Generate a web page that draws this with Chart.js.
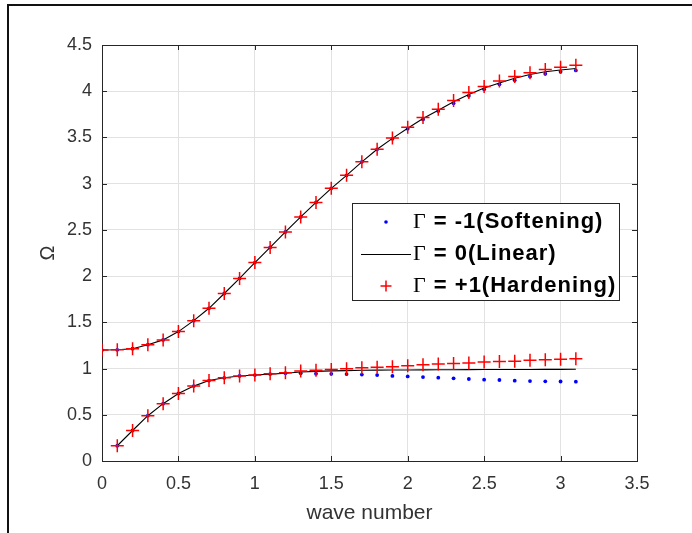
<!DOCTYPE html>
<html>
<head>
<meta charset="utf-8">
<script src="https://cdn.jsdelivr.net/npm/chart.js@4/dist/chart.umd.min.js"></script>
<style>
  html, body { margin: 0; padding: 0; background: #fff; }
  #wrap { width: 692px; height: 533px; }
</style>
</head>
<body>
<div id="wrap"><canvas id="grafico" width="692" height="533"></canvas></div>
<script>
// wave numbers
const kUpper = [0, 0.1, 0.2, 0.3, 0.4, 0.5, 0.6, 0.7, 0.8, 0.9, 1.0, 1.1, 1.2, 1.3, 1.4, 1.5,
  1.6, 1.7, 1.8, 1.9, 2.0, 2.1, 2.2, 2.3, 2.4, 2.5, 2.6, 2.7, 2.8, 2.9, 3.0, 3.1];
const kLower = kUpper.slice(1);

// upper (optical) branch
const linearUpper = [1.200, 1.203, 1.215, 1.258, 1.310, 1.400, 1.518, 1.652, 1.812, 1.975, 2.146,
  2.310, 2.478, 2.640, 2.797, 2.950, 3.090, 3.236, 3.372, 3.490, 3.600, 3.705, 3.795, 3.885,
  3.965, 4.035, 4.090, 4.140, 4.180, 4.210, 4.230, 4.245];
const softUpper = [1.200, 1.203, 1.215, 1.258, 1.310, 1.400, 1.518, 1.652, 1.812, 1.975, 2.146,
  2.310, 2.478, 2.640, 2.797, 2.950, 3.090, 3.236, 3.372, 3.485, 3.595, 3.695, 3.785, 3.870,
  3.950, 4.020, 4.075, 4.120, 4.160, 4.190, 4.210, 4.225];
const hardUpper = [1.200, 1.203, 1.215, 1.258, 1.310, 1.400, 1.518, 1.652, 1.812, 1.975, 2.146,
  2.310, 2.478, 2.640, 2.797, 2.950, 3.090, 3.236, 3.372, 3.495, 3.610, 3.715, 3.805, 3.900,
  3.985, 4.050, 4.110, 4.160, 4.200, 4.235, 4.260, 4.280];

// lower (acoustic) branch
const linearLower = [0.165, 0.330, 0.490, 0.620, 0.730, 0.810, 0.870, 0.900, 0.920, 0.930, 0.940,
  0.950, 0.963, 0.970, 0.975, 0.978, 0.981, 0.983, 0.984, 0.985, 0.986, 0.987, 0.987, 0.988,
  0.989, 0.989, 0.990, 0.990, 0.991, 0.991, 0.992];
const softLower = [0.165, 0.330, 0.490, 0.620, 0.730, 0.810, 0.870, 0.900, 0.920, 0.930, 0.940,
  0.950, 0.948, 0.945, 0.943, 0.940, 0.935, 0.930, 0.920, 0.915, 0.908, 0.901, 0.894, 0.887,
  0.880, 0.876, 0.869, 0.865, 0.862, 0.860, 0.858];
const hardLower = [0.165, 0.330, 0.490, 0.620, 0.730, 0.810, 0.870, 0.900, 0.920, 0.930, 0.944,
  0.955, 0.973, 0.982, 0.990, 0.998, 1.010, 1.015, 1.020, 1.030, 1.040, 1.050, 1.055, 1.060,
  1.070, 1.075, 1.080, 1.090, 1.095, 1.100, 1.105];

const labels = ['Γ = -1(Softening)', 'Γ = 0(Linear)', 'Γ = +1(Hardening)'];
const xTicks = { min: 0, max: 3.5, step: 0.5 };
const yTicks = { min: 0, max: 4.5, step: 0.5 };

const pts = (xs, ys) => xs.map((x, i) => ({ x, y: ys[i] }));
const fmt = v => String(Number(v.toFixed(2)));
const SANS = "'Liberation Sans', Arial, sans-serif";
const INK = '#333333';

function softSet(data, label) {
  return { label, data, showLine: false, pointStyle: 'circle', pointRadius: 1.9,
    pointBackgroundColor: '#0000ff', pointBorderColor: '#0000ff', pointBorderWidth: 0, order: 3, clip: 0 };
}
function linearSet(data, label) {
  return { label, data, showLine: true, borderColor: '#000', borderWidth: 1.1, pointRadius: 0,
    tension: 0, order: 2, clip: 0 };
}
function hardSet(data, label) {
  return { label, data, showLine: false, pointStyle: 'cross', pointRadius: 6.5, pointBorderWidth: 1.5,
    pointBorderColor: '#ff0000', pointBackgroundColor: '#ff0000', order: 1, clip: 0 };
}

// outer frame of the figure
const frame = {
  id: 'frame',
  beforeDraw(chart) {
    const ctx = chart.ctx;
    ctx.save();
    ctx.fillStyle = '#fff';
    ctx.fillRect(0, 0, chart.width, chart.height);
    ctx.fillStyle = '#111';
    ctx.fillRect(7, 4, chart.width, 2);
    ctx.fillRect(7, 4, 2, chart.height);
    ctx.restore();
  }
};

// matlab style box with inward ticks
const boxTicks = {
  id: 'boxTicks',
  beforeDatasetsDraw(chart) {
    const { ctx, chartArea: a, scales } = chart;
    ctx.save();
    ctx.strokeStyle = '#262626';
    ctx.lineWidth = 1;
    ctx.strokeRect(Math.round(a.left) + 0.5, Math.round(a.top) + 0.5,
      Math.round(a.right - a.left), Math.round(a.bottom - a.top));
    const len = 5;
    ctx.beginPath();
    scales.x.ticks.forEach(t => {
      const px = Math.round(scales.x.getPixelForValue(t.value)) + 0.5;
      ctx.moveTo(px, a.bottom); ctx.lineTo(px, a.bottom - len);
      ctx.moveTo(px, a.top); ctx.lineTo(px, a.top + len);
    });
    scales.y.ticks.forEach(t => {
      const py = Math.round(scales.y.getPixelForValue(t.value)) + 0.5;
      ctx.moveTo(a.left, py); ctx.lineTo(a.left + len, py);
      ctx.moveTo(a.right, py); ctx.lineTo(a.right - len, py);
    });
    ctx.stroke();
    ctx.restore();
  }
};

// legend inside the axes
const legendBox = {
  id: 'legendBox',
  afterDatasetsDraw(chart) {
    const ctx = chart.ctx;
    const left = 352, top = 203, w = 267, h = 97;
    ctx.save();
    ctx.fillStyle = '#fff';
    ctx.fillRect(left, top, w, h);
    ctx.strokeStyle = '#262626';
    ctx.lineWidth = 1;
    ctx.strokeRect(left + 0.5, top + 0.5, w, h);
    const items = chart.data.datasets.filter(d => d.label);
    items.forEach((d, i) => {
      const y = top + 19 + i * 32;
      const sx = left + 34;
      if (d.showLine) {
        ctx.strokeStyle = d.borderColor;
        ctx.lineWidth = 1.1;
        ctx.beginPath();
        ctx.moveTo(left + 9, y + 0.5);
        ctx.lineTo(left + 59, y + 0.5);
        ctx.stroke();
      } else {
        ctx.fillStyle = d.pointBackgroundColor;
        ctx.strokeStyle = d.pointBorderColor;
        ctx.lineWidth = d.pointBorderWidth || 1;
        Chart.helpers.drawPoint(ctx, { pointStyle: d.pointStyle, radius: d.pointStyle === 'cross' ? 5.5 : 1.8, rotation: 0, borderWidth: d.pointBorderWidth }, sx, y);
      }
      ctx.fillStyle = '#000';
      ctx.textBaseline = 'middle';
      ctx.textAlign = 'left';
      let tx = left + 61;
      ctx.font = "22px 'Liberation Serif', 'Times New Roman', serif";
      ctx.fillText(d.label[0], tx, y);
      tx += ctx.measureText(d.label[0]).width + 1;
      ctx.font = "bold 22px " + SANS;
      ctx.letterSpacing = '1px';
      ctx.fillText(d.label.slice(1), tx, y);
      ctx.letterSpacing = '0px';
    });
    ctx.restore();
  }
};

new Chart(document.getElementById('grafico'), {
  type: 'scatter',
  data: {
    datasets: [
      hardSet(pts(kUpper, hardUpper), labels[2]),
      hardSet(pts(kLower, hardLower)),
      linearSet(pts(kUpper, linearUpper), labels[1]),
      linearSet(pts(kLower, linearLower)),
      softSet(pts(kUpper, softUpper), labels[0]),
      softSet(pts(kLower, softLower))
    ].sort((a, b) => b.order - a.order)
  },
  options: {
    responsive: false,
    animation: false,
    layout: { padding: { left: 0, right: 55, top: 45, bottom: 0 } },
    plugins: { legend: { display: false }, tooltip: { enabled: false } },
    scales: {
      x: {
        type: 'linear', min: xTicks.min, max: xTicks.max,
        ticks: { stepSize: xTicks.step, color: INK, padding: 12, font: { family: SANS, size: 18 },
          callback: fmt },
        grid: { color: '#e2e2e2', drawTicks: false },
        border: { display: false },
        title: { display: true, text: 'wave number', color: INK, padding: { top: 0, bottom: 7 },
          font: { family: SANS, size: 21 } },
        afterFit: s => { s.height = 72; }
      },
      y: {
        type: 'linear', min: yTicks.min, max: yTicks.max,
        ticks: { stepSize: yTicks.step, color: INK, padding: 10, font: { family: SANS, size: 18 },
          callback: fmt },
        grid: { color: '#e2e2e2', drawTicks: false },
        border: { display: false },
        title: { display: true, text: 'Ω', color: INK, padding: { top: 36, bottom: 0 },
          font: { family: SANS, size: 20 } },
        afterFit: s => { s.width = 102; }
      }
    }
  },
  plugins: [frame, boxTicks, legendBox]
});
</script>
</body>
</html>
